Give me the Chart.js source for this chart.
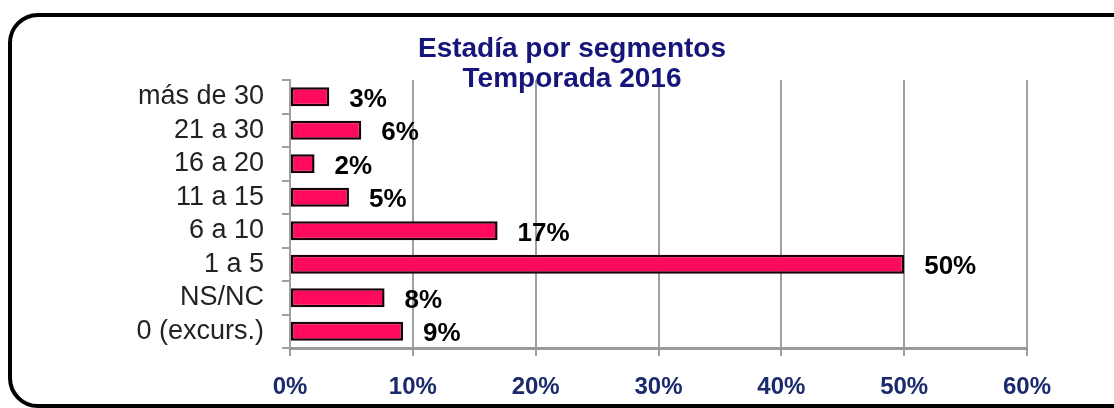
<!DOCTYPE html>
<html>
<head>
<meta charset="utf-8">
<script src="https://cdn.jsdelivr.net/npm/chart.js@4"></script>
<style>
    body { margin: 0; background: #fff; }
    .wrap { position: relative; width: 1114px; height: 408px; overflow: hidden; }
    .frame {
        position: absolute; left: 8px; top: 13px; width: 1200px; height: 395px;
        box-sizing: border-box; border: 4px solid #000; border-radius: 30px;
    }
    canvas { position: absolute; left: 0; top: 0; }
</style>
</head>
<body>
<div class="wrap">
    <div class="frame"></div>
    <canvas id="stayChart" width="1114" height="408"></canvas>
</div>
<script>
        // Chart data
        const segments = ['más de 30', '21 a 30', '16 a 20', '11 a 15', '6 a 10', '1 a 5', 'NS/NC', '0 (excurs.)'];
        const shares = [3.2, 5.8, 2.0, 4.8, 16.9, 50, 7.7, 9.2];
        const xTicks = [0, 10, 20, 30, 40, 50, 60];

        const FONT = '"Liberation Sans", Arial, sans-serif';

        // Value labels next to each bar
        const valueLabels = {
            id: 'valueLabels',
            afterDatasetsDraw(chart) {
                const ctx = chart.ctx;
                const meta = chart.getDatasetMeta(0);
                ctx.save();
                ctx.font = 'bold 26px ' + FONT;
                ctx.fillStyle = '#000';
                ctx.textAlign = 'left';
                ctx.textBaseline = 'middle';
                meta.data.forEach((bar, i) => {
                    ctx.fillText(Math.round(shares[i]) + '%', bar.x + 20, bar.y + 3);
                });
                ctx.restore();
            }
        };

        const stayCtx = document.getElementById('stayChart').getContext('2d');
        const stayChart = new Chart(stayCtx, {
            type: 'bar',
            data: {
                labels: segments,
                datasets: [{
                    data: shares,
                    backgroundColor: '#ff0a5c',
                    borderColor: '#1a0008',
                    borderWidth: 2.5,
                    borderSkipped: false,
                    barPercentage: 0.56,
                    categoryPercentage: 1
                }]
            },
            options: {
                indexAxis: 'y',
                responsive: false,
                animation: false,
                layout: {
                    padding: { left: 117, right: 87, top: 34, bottom: 0 }
                },
                plugins: {
                    legend: { display: false },
                    tooltip: { enabled: false },
                    title: {
                        display: true,
                        text: ['Estadía por segmentos', 'Temporada 2016'],
                        color: '#16167a',
                        font: { family: FONT, size: 28, weight: 'bold', lineHeight: 30 / 28 },
                        padding: { top: 0, bottom: -14 }
                    }
                },
                scales: {
                    x: {
                        min: 0,
                        max: 60,
                        afterBuildTicks: scale => {
                            scale.ticks = xTicks.map(v => ({ value: v }));
                        },
                        afterFit: scale => {
                            scale.height = 60;
                            scale.paddingLeft = 0;
                            scale.paddingRight = 0;
                        },
                        ticks: {
                            callback: v => v + '%',
                            color: '#1a2a6c',
                            padding: 17,
                            maxRotation: 0,
                            font: { family: FONT, size: 24, weight: 'bold' }
                        },
                        grid: {
                            color: '#a0a0a0',
                            lineWidth: 2,
                            tickLength: 8
                        },
                        border: { color: '#999', width: 3 }
                    },
                    y: {
                        afterFit: scale => {
                            scale.width = 173;
                            scale.paddingTop = 0;
                            scale.paddingBottom = 0;
                        },
                        ticks: {
                            autoSkip: false,
                            color: '#222',
                            padding: 18,
                            font: { family: FONT, size: 27 }
                        },
                        grid: {
                            offset: true,
                            drawOnChartArea: false,
                            color: '#a0a0a0',
                            lineWidth: 2,
                            tickLength: 8
                        },
                        border: { color: '#a0a0a0', width: 2 }
                    }
                }
            },
            plugins: [valueLabels]
        });
</script>
</body>
</html>
